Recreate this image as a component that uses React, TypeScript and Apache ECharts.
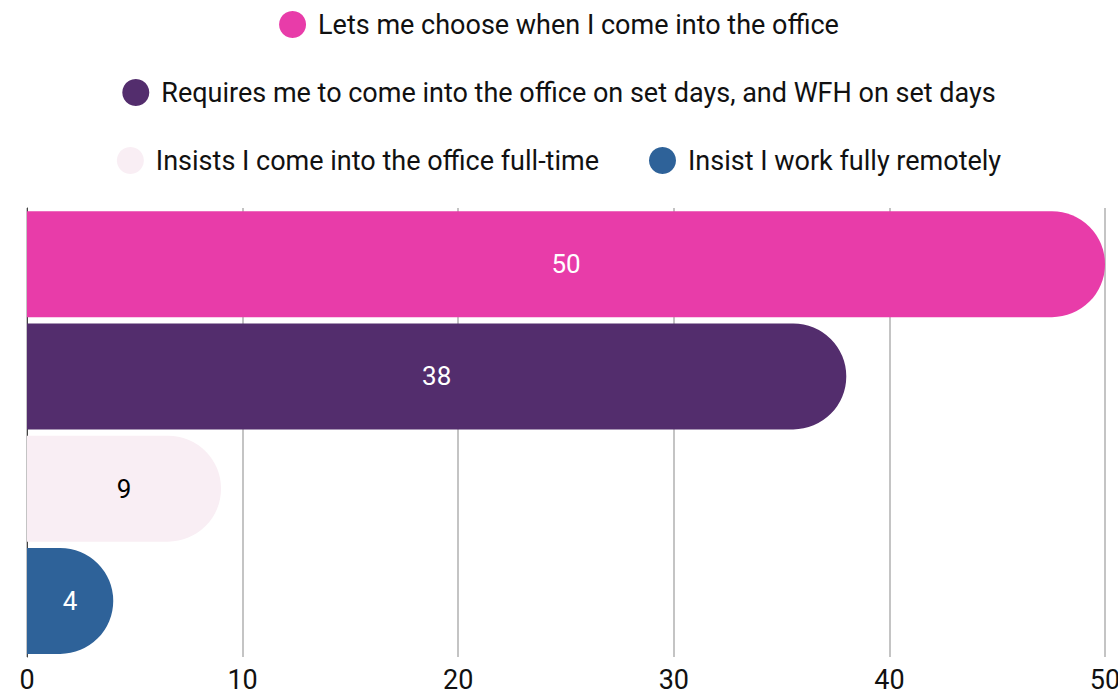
import React, { useEffect, useRef } from "react";
import * as echarts from "echarts";

const categories = [
  "Lets me choose when I come into the office",
  "Requires me to come into the office on set days, and WFH on set days",
  "Insists I come into the office full-time",
  "Insist I work fully remotely",
];
const values = [50, 38, 9, 4];
const colors = ["#e83ca9", "#532d6d", "#f9eef4", "#2e6299"];
const labelColors = ["#ffffff", "#ffffff", "#000000", "#ffffff"];
const xTicks = { min: 0, max: 50, interval: 10 };
const legendRows = [[categories[0]], [categories[1]], [categories[2], categories[3]]];

export default function App() {
  const ref = useRef<HTMLDivElement>(null);
  useEffect(() => {
    if (!ref.current) return;
    const chart = echarts.init(ref.current, undefined, { renderer: "svg" });
    const font = "Roboto";
    const series = categories.map((name, i) => ({
      name,
      type: "bar",
      stack: "all",
      barWidth: 106,
      data: categories.map((_, j) => (j === i ? values[i] : null)),
      itemStyle: { color: colors[i], borderRadius: [0, 53, 53, 0] },
      label: {
        show: true,
        position: "inside",
        color: labelColors[i],
        fontFamily: font,
        fontSize: 26,
      },
    }));
    chart.setOption({
      animation: false,
      textStyle: { fontFamily: font },
      legend: legendRows.map((row, r) => ({
        data: row,
        top: 11 + r * 68,
        left: "center",
        padding: 0,
        icon: "circle",
        itemWidth: 27,
        itemHeight: 27,
        itemGap: 50,
        textStyle: { fontFamily: font, fontSize: 27, color: "#111111", padding: [0, 0, 0, 7] },
        selectedMode: false,
      })),
      grid: {
        left: 27,
        right: 13,
        top: 208,
        bottom: 42,
        containLabel: false,
        outerBoundsMode: "none",
      },
      xAxis: {
        type: "value",
        min: xTicks.min,
        max: xTicks.max,
        interval: xTicks.interval,
        axisLine: { show: false },
        axisTick: { show: false },
        axisLabel: { fontFamily: font, fontSize: 27, color: "#111111", margin: 9 },
        splitLine: { show: true, lineStyle: { color: "#c4c4c4", width: 2 } },
      },
      yAxis: {
        type: "category",
        data: categories,
        inverse: true,
        axisLine: { show: true, lineStyle: { color: "#444444", width: 1 } },
        axisTick: { show: false },
        axisLabel: { show: false },
      },
      series,
    });
    return () => chart.dispose();
  }, []);
  return (
    <div
      ref={ref}
      style={{ position: "absolute", left: 0, top: 0, width: 1118, height: 699 }}
    />
  );
}
